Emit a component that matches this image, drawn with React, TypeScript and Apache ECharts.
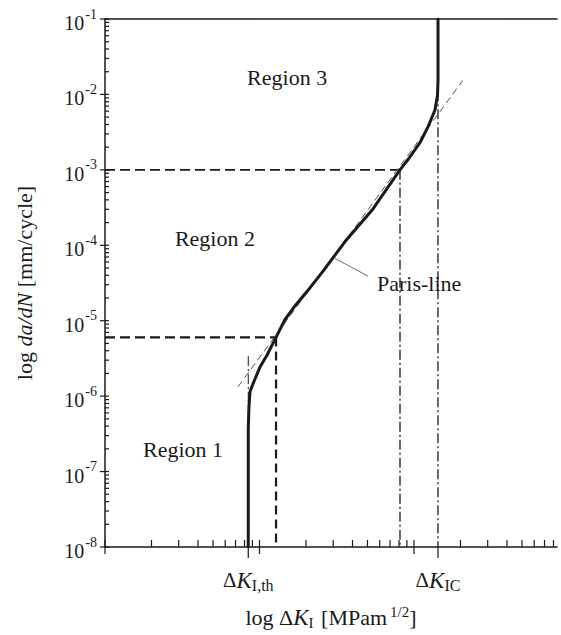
import React, { useEffect, useRef } from 'react';
import * as echarts from 'echarts';

// ---- axis ranges ----
const X_MIN = 1;
const X_MAX = 843;
const Y_MIN = 1e-8;
const Y_MAX = 1e-1;

// ---- tick labels ----
const yTickExponents = [-8, -7, -6, -5, -4, -3, -2, -1];
const xMajorTicks = [1, 10, 100];
const xDecadeExponents = [0, 1, 2];
const yDecadeExponents = [-8, -7, -6, -5, -4, -3, -2];
const minorMultipliers = [2, 3, 4, 5, 6, 7, 8, 9];

// ---- crack growth curve (ΔK, da/dN) ----
const curveDK = [8.46, 8.46, 8.46, 8.55, 8.68, 9.08, 10.07, 11.18, 12.6, 14.6, 17.0, 21.2, 25.8, 35.8, 54.3, 67.9, 81.2, 91.5, 109.3, 123.2, 136.8, 142.0, 143.1, 143.1];
const curveRate = [1e-8, 1.2e-7, 3.63e-7, 7.26e-7, 1.14e-6, 1.46e-6, 2.43e-6, 3.49e-6, 5.65e-6, 1.03e-5, 1.58e-5, 2.72e-5, 4.54e-5, 1.12e-4, 3.03e-4, 5.9e-4, 1.0e-3, 1.37e-3, 2.29e-3, 3.72e-3, 6.21e-3, 9.76e-3, 1.53e-2, 1e-1];

// ---- Paris line (dashed fit) ----
const parisDK = [7.26, 207];
const parisRate = [1.33e-6, 1.53e-2];

// ---- characteristic values ----
const dKth = 8.46;
const dKIC = 143;
const kneeDK = 12.8;
const kneeRate = 6e-6;
const parisEndDK = 81.2;
const parisEndRate = 1e-3;
const icLineTop = 1.1e-2;
const thLineTop = 3.4e-6;

// ---- annotations ----
const regionLabels = ['Region 3', 'Region 2', 'Region 1'];
const regionDK = [15.1, 5.15, 3.2];
const regionRate = [1.68e-2, 1.23e-4, 1.98e-7];
const parisLabel = 'Paris-line';
const parisLabelDK = 57.6;
const parisLabelRate = 3.15e-5;
const leaderDK = [30.8, 50.4];
const leaderRate = [6.7e-5, 3.9e-5];
const dKLabels = ['{d|Δ}{k|K}{s|I,th}', '{d|Δ}{k|K}{s|IC}'];
const dKLabelValues = [dKth, dKIC];

const FONT = '"Liberation Serif", "Times New Roman", serif';
const INK = '#1a1a1a';
const GREY = '#555';

const xMinorTicks: number[] = [];
xDecadeExponents.forEach((e) => minorMultipliers.forEach((k) => {
  const v = k * Math.pow(10, e);
  if (v < X_MAX) xMinorTicks.push(v);
}));
const yMinorTicks: number[] = [];
yDecadeExponents.forEach((e) => minorMultipliers.forEach((k) => yMinorTicks.push(k * Math.pow(10, e))));

const xTickValues = [...xMajorTicks, ...xMinorTicks, dKth, dKIC];
const xTickKinds = [...xMajorTicks.map(() => 'major'), ...xMinorTicks.map(() => 'minor'), 'label', 'label'];
const yTickValues = [...yTickExponents.map((e) => Math.pow(10, e)), ...yMinorTicks];
const yTickKinds = [...yTickExponents.map(() => 'major'), ...yMinorTicks.map(() => 'minor')];

const pairs = (xs: number[], ys: number[]) => xs.map((x, i) => [x, ys[i]]);

function dashed(data: number[][], width: number, type: number[], color = INK) {
  return {
    type: 'line',
    data,
    symbol: 'none',
    silent: true,
    lineStyle: { color, width, type },
    z: 3,
  };
}

export default function App() {
  const ref = useRef<HTMLDivElement>(null);
  useEffect(() => {
    document.body.style.margin = '0';
    if (!ref.current) return;
    const chart = echarts.init(ref.current, undefined, { renderer: 'svg' });
    const axisLine = { show: true, lineStyle: { color: INK, width: 1.5 } };
    chart.setOption({
      animation: false,
      backgroundColor: '#fff',
      grid: { left: 105, right: 4, top: 19, bottom: 83 },
      xAxis: [
        {
          type: 'log', logBase: 10, min: X_MIN, max: X_MAX,
          axisLine, axisTick: { show: false }, axisLabel: { show: false }, splitLine: { show: false },
          name: '{n|log Δ}{i|K}{sub|I}{n| [MPam}{sup|1/2}{n|]}',
          nameLocation: 'middle', nameGap: 57,
          nameTextStyle: {
            rich: {
              n: { fontFamily: FONT, fontSize: 22, color: INK },
              i: { fontFamily: FONT, fontSize: 23, fontStyle: 'italic', color: INK },
              sub: { fontFamily: FONT, fontSize: 15, color: INK, padding: [10, 2, 0, 0] },
              sup: { fontFamily: FONT, fontSize: 15, color: INK, padding: [0, 0, 12, 3] },
            },
          },
        },
        {
          type: 'log', logBase: 10, min: X_MIN, max: X_MAX, position: 'top',
          axisLine, axisTick: { show: false }, axisLabel: { show: false }, splitLine: { show: false },
        },
      ],
      yAxis: {
        type: 'log', logBase: 10, min: Y_MIN, max: Y_MAX,
        axisLine, axisTick: { show: false }, splitLine: { show: false },
        axisLabel: {
          margin: 8,
          formatter: (v: number) => {
            const e = Math.round(Math.log10(v));
            return yTickExponents.includes(e) ? `{b|10}{s|${e}}` : '';
          },
          rich: {
            b: { fontFamily: FONT, fontSize: 20, color: INK, padding: [8, 0, 0, 0] },
            s: { fontFamily: FONT, fontSize: 14, color: INK, padding: [0, 0, 10, 1] },
          },
        },
        name: '{n|log }{i|da/dN}{n| [mm/cycle]}',
        nameLocation: 'middle', nameGap: 70,
        nameTextStyle: {
          rich: {
            n: { fontFamily: FONT, fontSize: 22, color: INK },
            i: { fontFamily: FONT, fontSize: 22, fontStyle: 'italic', color: INK },
          },
        },
      },
      series: [
        // reference lines
        dashed(pairs([X_MIN, kneeDK], [kneeRate, kneeRate]), 2.2, [10, 5]),
        dashed(pairs([kneeDK, kneeDK], [kneeRate, Y_MIN]), 2.2, [9, 5]),
        dashed(pairs([X_MIN, parisEndDK], [parisEndRate, parisEndRate]), 1.6, [10, 5]),
        dashed(pairs([parisEndDK, parisEndDK], [parisEndRate, Y_MIN]), 1.3, [10, 3, 2, 3]),
        dashed(pairs([dKIC, dKIC], [icLineTop, Y_MIN]), 1.3, [10, 3, 2, 3]),
        dashed(pairs([dKth, dKth], [thLineTop, Y_MIN]), 1, [10, 3, 2, 3]),
        dashed(pairs(parisDK, parisRate), 1, [7, 4], GREY),
        dashed(pairs(leaderDK, leaderRate), 1, [1, 0], GREY),
        // crack growth curve
        {
          type: 'line',
          data: pairs(curveDK, curveRate),
          symbol: 'none',
          silent: true,
          lineStyle: { color: INK, width: 3, join: 'round', cap: 'round' },
          z: 5,
        },
        // x ticks
        {
          type: 'custom',
          silent: true,
          data: xTickValues.map((v) => [v, Y_MIN]),
          renderItem: (params: any, api: any) => {
            const p = api.coord([api.value(0), Y_MIN]);
            const kind = xTickKinds[params.dataIndex];
            const up = kind === 'label' ? 0 : 7;
            const down = kind === 'major' ? 7 : kind === 'label' ? 11 : 0;
            return {
              type: 'line',
              shape: { x1: p[0], y1: p[1] - up, x2: p[0], y2: p[1] + down },
              style: { stroke: INK, lineWidth: 1.2 },
            };
          },
          z: 6,
        },
        // y ticks
        {
          type: 'custom',
          silent: true,
          data: yTickValues.map((v) => [X_MIN, v]),
          renderItem: (params: any, api: any) => {
            const p = api.coord([X_MIN, api.value(1)]);
            const kind = yTickKinds[params.dataIndex];
            const left = kind === 'major' ? 5 : 0;
            return {
              type: 'line',
              shape: { x1: p[0] - left, y1: p[1], x2: p[0] + 4, y2: p[1] },
              style: { stroke: INK, lineWidth: 1.2 },
            };
          },
          z: 6,
        },
        // region labels
        {
          type: 'custom',
          silent: true,
          data: pairs(regionDK, regionRate),
          renderItem: (params: any, api: any) => {
            const p = api.coord([api.value(0), api.value(1)]);
            return {
              type: 'text', x: p[0], y: p[1],
              style: {
                text: regionLabels[params.dataIndex], fontFamily: FONT, fontSize: 22, fill: INK,
                align: 'center', verticalAlign: 'middle',
              },
            };
          },
          z: 7,
        },
        // Paris-line label
        {
          type: 'custom',
          silent: true,
          data: [[parisLabelDK, parisLabelRate]],
          renderItem: (params: any, api: any) => {
            const p = api.coord([api.value(0), api.value(1)]);
            return {
              type: 'text', x: p[0], y: p[1],
              style: {
                text: parisLabel, fontFamily: FONT, fontSize: 22, fill: INK,
                align: 'left', verticalAlign: 'middle',
              },
            };
          },
          z: 7,
        },
        // ΔK labels under the axis
        {
          type: 'custom',
          silent: true,
          data: dKLabelValues.map((v) => [v, Y_MIN]),
          renderItem: (params: any, api: any) => {
            const p = api.coord([api.value(0), Y_MIN]);
            return {
              type: 'text', x: p[0], y: p[1] + 33,
              style: {
                text: dKLabels[params.dataIndex],
                align: 'center', verticalAlign: 'middle',
                rich: {
                  d: { fontFamily: FONT, fontSize: 21, fill: INK },
                  k: { fontFamily: FONT, fontSize: 23, fontStyle: 'italic', fill: INK },
                  s: { fontFamily: FONT, fontSize: 16, fill: INK, padding: [10, 0, 0, 0] },
                },
              },
            };
          },
          z: 7,
        },
      ],
    });
    return () => chart.dispose();
  }, []);
  return <div ref={ref} style={{ width: 561, height: 635 }} />;
}
